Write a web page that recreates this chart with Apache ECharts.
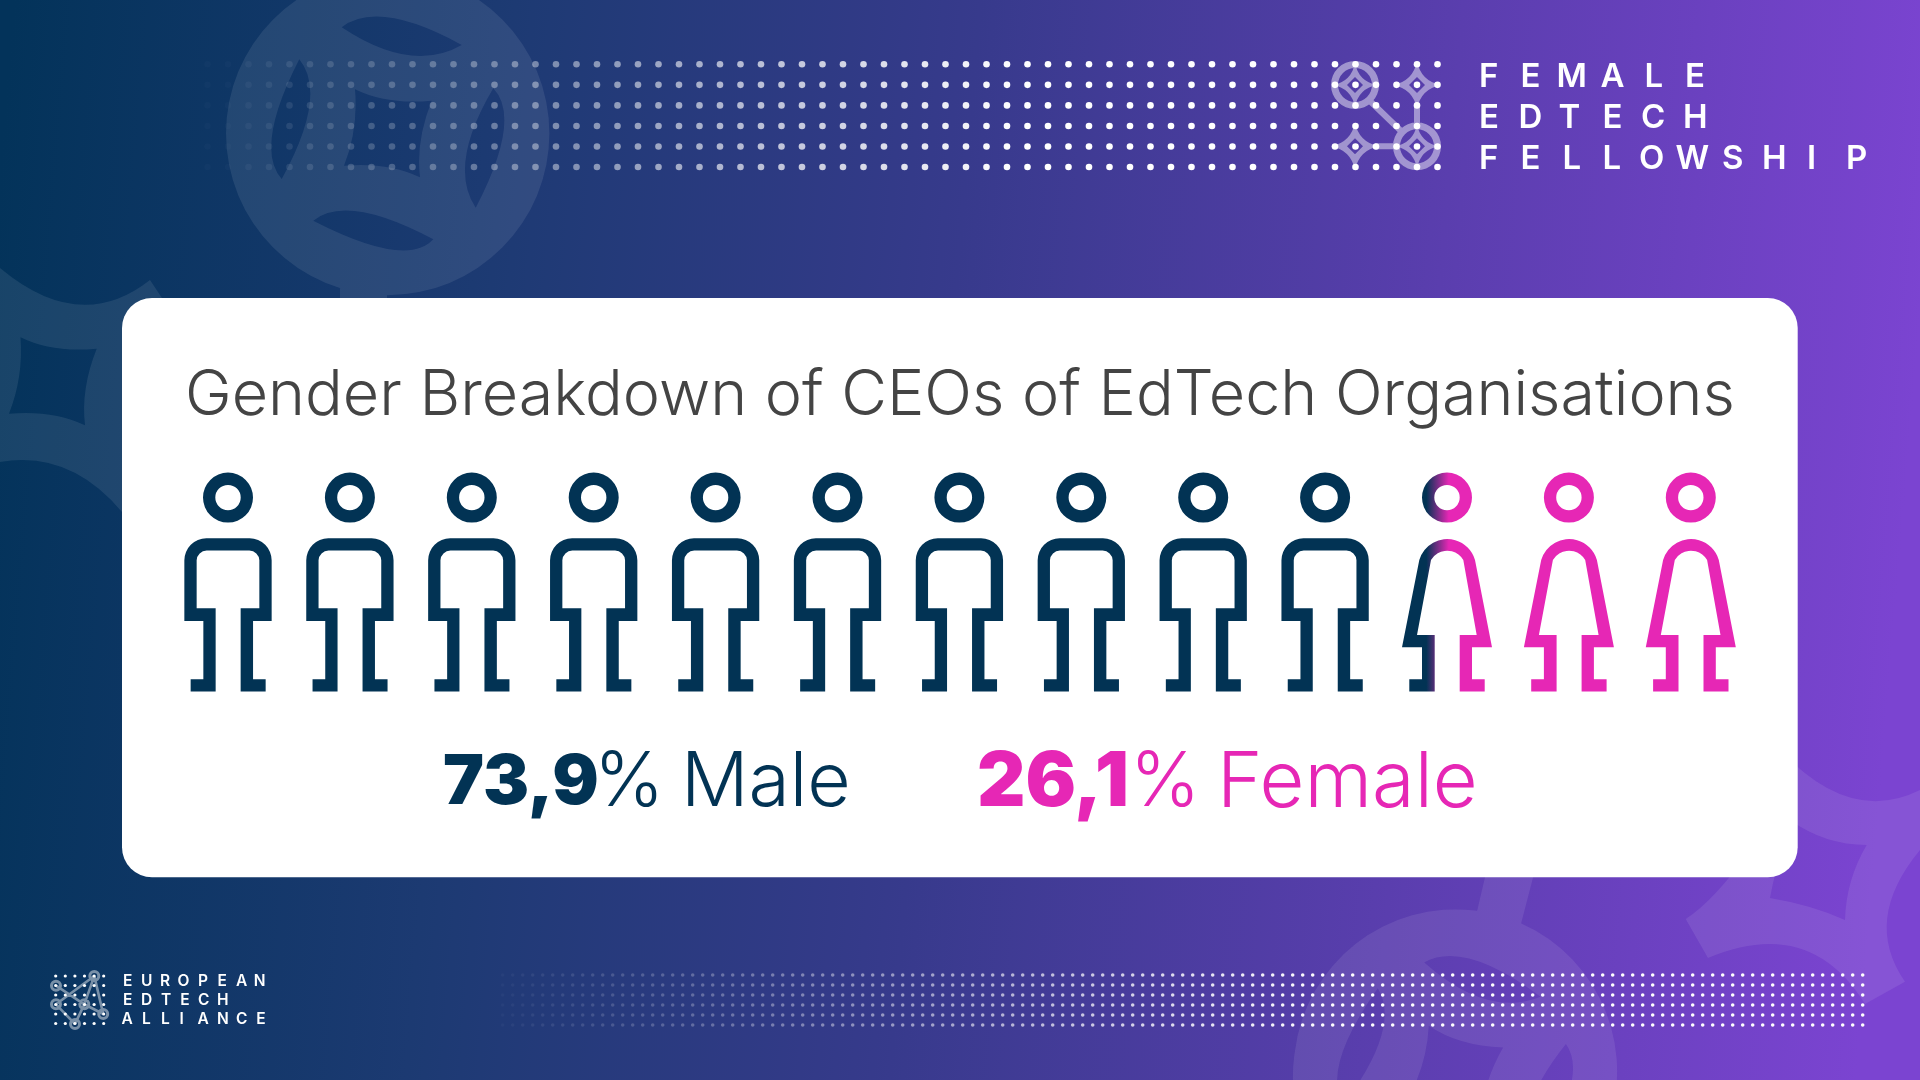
<!DOCTYPE html>
<html><head><meta charset="utf-8">
<style>html,body{margin:0;padding:0;background:#fff}#c{width:1920px;height:1080px}</style>
<script src="https://cdn.jsdelivr.net/npm/echarts@6/dist/echarts.min.js"></script>
</head><body><div id="c"></div>
<script>
// ---- data ----
const figureLabels = ['1','2','3','4','5','6','7','8','9','10','11','12','13'];
const figureUnits  = [1,1,1,1,1,1,1,1,1,1,1,1,1];
const figureKinds  = ['male','male','male','male','male','male','male','male','male','male','mixed','female','female'];
const malePct = 73.9;
const femalePct = 26.1;
const titleText = 'Gender Breakdown of CEOs of EdTech Organisations';
const maleLabel = 'Male';
const femaleLabel = 'Female';
const headerLines = ['FEMALE','EDTECH','FELLOWSHIP'];
const footerLines = ['EUROPEAN','EDTECH','ALLIANCE'];

// ---- styles ----
const NAVY = '#023354', PINK = '#e627b5';
const BAND = 'rgba(255,255,255,0.085)';
const LOGO = 'rgba(255,255,255,0.45)';

// ---- figure icons ----
const ring = (cx,cy,R,r)=>`M${cx-R} ${cy}A${R} ${R} 0 1 1 ${cx+R} ${cy}A${R} ${R} 0 1 1 ${cx-R} ${cy}Z`+
  (r?`M${cx-r} ${cy}A${r} ${r} 0 1 0 ${cx+r} ${cy}A${r} ${r} 0 1 0 ${cx-r} ${cy}Z`:'');
const malePath = 'path://'+ring(43.65,25,25,12.7)+
 'M0 148.4L0 87.7A22 22 0 0 1 22 65.7L65.3 65.7A22 22 0 0 1 87.3 87.7L87.3 148.4L68.7 148.4L68.7 206.7L81.3 206.7L81.3 219L56.3 219L56.3 135.7L75 135.7L75 87.7A10 10 0 0 0 65 78L22.3 78A10 10 0 0 0 12.3 87.7L12.3 135.7L31.3 135.7L31.3 219L6.3 219L6.3 206.7L19 206.7L19 148.4Z';
const femalePath = 'path://'+ring(45,25,25,12.7)+
 'M0 174.7L17.3 87.4A29 29 0 0 1 73 87.4L90 174.7L70 174.7L70 206.7L82.7 206.7L82.7 219L57.7 219L57.7 162.4L74.7 162.4L61.3 87.4A18.7 18.7 0 0 0 29 87.4L15 162.4L32.7 162.4L32.7 219L7.3 219L7.3 206.7L20 206.7L20 174.7Z';
const mixedFill = new echarts.graphic.LinearGradient(0,0,1,0,[
  {offset:0,color:NAVY},{offset:0.27,color:NAVY},{offset:0.52,color:PINK},{offset:1,color:PINK}]);
const iconOf = {
  male:{symbol:malePath,symbolSize:[87.3,219],color:NAVY},
  female:{symbol:femalePath,symbolSize:[90,219],color:PINK},
  mixed:{symbol:femalePath,symbolSize:[90,219],color:mixedFill}
};

// ---- background decoration geometry ----
function coin(cx,cy,deg,extra){
  const a=deg*Math.PI/180,c=Math.cos(a),s=Math.sin(a);
  const t=(x,y)=>{const dx=x-387.7,dy=y-133.5;return (cx+dx*c-dy*s).toFixed(1)+' '+(cy+dx*s+dy*c).toFixed(1)};
  const lens=(p0,p1,p2,p3)=>{ // tip, pass, tip, pass
    const C=(a,b,p)=>[2*p[0]-(a[0]+b[0])/2,2*p[1]-(a[1]+b[1])/2];
    const c1=C(p0,p2,p1),c2=C(p2,p0,p3);
    return `M${t(...p0)}Q${t(...c1)} ${t(...p2)}Q${t(...c2)} ${t(...p0)}Z`;
  };
  const R=161.7;
  let d=`M${t(387.7-R,133.5)}A${R} ${R} 0 1 1 ${t(387.7+R,133.5)}A${R} ${R} 0 1 1 ${t(387.7-R,133.5)}Z`;
  d+=lens([461.7,45],[390,17.7],[341.7,27.3],[406.7,55]);
  d+=lens([433.3,239.3],[360,211.7],[313.3,220.7],[390,249.3]);
  d+=lens([299.3,59.3],[272.3,133.3],[281.7,179],[309.3,106.7]);
  d+=lens([493.3,88.3],[466,156.7],[475.7,207.7],[503.3,133.3]);
  d+=`M${t(355,89.3)}Q${t(358.5,129)} ${t(344,165.7)}Q${t(388,162)} ${t(420,177.3)}Q${t(415.6,141)} ${t(431.7,100.7)}Q${t(386.7,105)} ${t(355,89.3)}Z`;
  return d+(extra||'');
}
const topCoin = coin(387.7,133.5,0,'M340 280L387 280L387 302L340 302Z');
const bottomCoin = coin(1455,1074,8,'M1486.7 870L1535 870L1520.7 925L1476.7 912.7Z');
const leftCluster = 'M0 268Q80 335 150 280L170 310L170 525L122 512Q70 450 0 462Z'+
  'M20.5 337.3Q23.5 377 9 413.7Q53 410 85 425.3Q80.6 389 96.7 348.7Q52 353 20.5 337.3Z';
const rightCluster = 'M1780 750Q1850 825 1920 790L1920 850Q1862 920 1905 981.7L1865 1004Q1810 915 1708 958L1685.7 919Q1715 900 1750 850Z'+
  'M1790 820Q1776 866 1770 898Q1812 905 1845 920Q1846 880 1866.7 845Q1825 845 1790 820Z';

const seg=(x1,y1,x2,y2,w)=>{ // thin clockwise quad
  const L=Math.hypot(x2-x1,y2-y1),nx=-(y2-y1)/L*w/2,ny=(x2-x1)/L*w/2;
  const p=[[x1-nx,y1-ny],[x2-nx,y2-ny],[x2+nx,y2+ny],[x1+nx,y1+ny]];
  return 'M'+p.map(q=>q[0].toFixed(1)+' '+q[1].toFixed(1)).join('L')+'Z';
};
const star=(x,y,R,h)=>{const k=R*0.16;
  return `M${x} ${y-R}Q${x+k} ${y-k} ${x+R} ${y}Q${x+k} ${y+k} ${x} ${y+R}Q${x-k} ${y+k} ${x-R} ${y}Q${x-k} ${y-k} ${x} ${y-R}Z`+
         `M${x} ${y-h}L${x-h} ${y}L${x} ${y+h}L${x+h} ${y}Z`;};
const headerLogo = ring(1355,85,24,17)+ring(1417,146.3,24,17)+
  star(1355,85,22,8)+star(1417,85,24,8)+star(1355,146.3,24,8)+star(1417,146.3,22,8)+
  seg(1371,102,1400,130,6)+seg(1417,105,1417,128,6)+seg(1375,146.3,1397,146.3,6);
const fn=[[94.3,976],[56,985.7],[56,1004.3],[84.3,1004.3],[103.2,1014],[75,1024]];
const footerLogo = fn.map(p=>ring(p[0],p[1],6,3)).join('')+
  seg(56,985.7,84.3,1004.3,2.6)+seg(56,1004.3,75,1024,2.6)+seg(94.3,976,56,1004.3,2.6)+
  seg(94.3,976,103.2,1014,2.6)+seg(84.3,1004.3,103.2,1014,2.6)+seg(84.3,1004.3,75,1024,2.6)+seg(94.3,976,84.3,1004.3,2.6);

function decoration(){
  const ch=[
    {type:'path',shape:{pathData:topCoin},style:{fill:BAND}},
    {type:'path',shape:{pathData:bottomCoin},style:{fill:BAND}},
    {type:'path',shape:{pathData:leftCluster},style:{fill:BAND}},
    {type:'path',shape:{pathData:rightCluster},style:{fill:BAND}}
  ];
  for(let r=0;r<6;r++){ // upper dot strip
    for(let k=-6;k<=54;k++){
      const x=1314.5-k*20.5,y=64.3+r*20.55;
      ch.push({type:'circle',shape:{cx:x,cy:y,r:3.3},style:{fill:'#fff',opacity:Math.max(0.02,Math.min(1,(x-215)/800))}});
    }
    for(let k=0;k<137;k++){
      const x=1862.7-k*10,y=975+r*10;
      ch.push({type:'circle',shape:{cx:x,cy:y,r:1.8},style:{fill:'#fff',opacity:Math.max(0.03,Math.min(1,(x-475)/850))}});
    }
  }
  ch.push({type:'path',shape:{pathData:headerLogo},style:{fill:LOGO}});
  ch.push({type:'path',shape:{pathData:footerLogo},style:{fill:LOGO}});
  for(let i=0;i<6;i++)for(let j=0;j<6;j++)
    ch.push({type:'circle',shape:{cx:55.7+i*9.6,cy:976+j*9.5,r:1.6},style:{fill:'#fff'}});
  ch.push({type:'rect',shape:{x:122,y:298,width:1675.7,height:579.3,r:30},style:{fill:'#fff'}});
  return {type:'group',children:ch};
}

// ---- letterspaced wordmarks ----
const headerX=[[1479,1520.5,1556.5,1600.5,1644.5,1685],[1479,1518.5,1558.5,1602.5,1641,1683],[1479,1520.5,1562.5,1602.5,1639,1675.5,1722,1762,1807,1846]];
const headerY=[77.5,118.2,159.5];
const footerX=[[123,140.9,159.9,177.5,198.1,217.5,235.9,253.8],[123,140.9,160.9,180.2,198.1,217],[121.5,142,160.9,179.5,197.5,217,235.9,256.3]];
const footerY=[981.7,1000,1019];
function letters(lines,xs,ys,font){
  const out=[];
  lines.forEach((w,i)=>[...w].forEach((ch,j)=>out.push({type:'text',z:20,silent:true,style:{text:ch,x:xs[i][j],y:ys[i],fill:'#fff',font,align:'left',verticalAlign:'middle'}})));
  return out;
}
const comma=v=>String(v).replace('.',',');
const statY=783.5;
const stat=(text,x,color,font)=>({type:'text',z:20,silent:true,style:{text,x,y:statY,fill:color,font,align:'left',verticalAlign:'middle'}});
const LIGHT='300 75px Inter';

const chart=echarts.init(document.getElementById('c'),null,{renderer:'canvas'});
chart.setOption({
  animation:false,
  backgroundColor:new echarts.graphic.LinearGradient(0,0.15,1,0.3,[
    {offset:0,color:'#03335a'},{offset:0.25,color:'#1c3a72'},{offset:0.5,color:'#373a8c'},{offset:0.75,color:'#5a3eae'},{offset:1,color:'#7b44d1'}]),
  title:{text:titleText,left:180,top:360,z:20,textStyle:{color:'#444444',fontFamily:'Inter',fontWeight:300,fontSize:62.8}},
  grid:{left:167.05,width:1584.7,top:472.6,height:219,containLabel:false},
  xAxis:{type:'category',data:figureLabels,show:false},
  yAxis:{type:'value',min:0,max:1,show:false},
  series:[
    {type:'custom',coordinateSystem:'none',silent:true,z:1,clip:false,data:[[0]],renderItem:decoration},
    {type:'pictorialBar',z:5,silent:true,symbolPosition:'start',symbolRepeat:false,
     data:figureUnits.map((v,i)=>{const ic=iconOf[figureKinds[i]];
       return {value:v,symbol:ic.symbol,symbolSize:ic.symbolSize,itemStyle:{color:ic.color}};})}
  ],
  graphic:{elements:[
    ...letters(headerLines,headerX,headerY,'600 33px Inter'),
    ...letters(footerLines,footerX,footerY,'600 15.5px Inter'),
    stat(comma(malePct),443,NAVY,'900 69px Inter'),
    stat('%',594,NAVY,LIGHT),
    stat(maleLabel,681,NAVY,LIGHT),
    stat(comma(femalePct),977,PINK,'900 75px Inter'),
    stat('%',1130,PINK,LIGHT),
    stat(femaleLabel,1217,PINK,'300 77.5px Inter')
  ]}
});
</script></body></html>
